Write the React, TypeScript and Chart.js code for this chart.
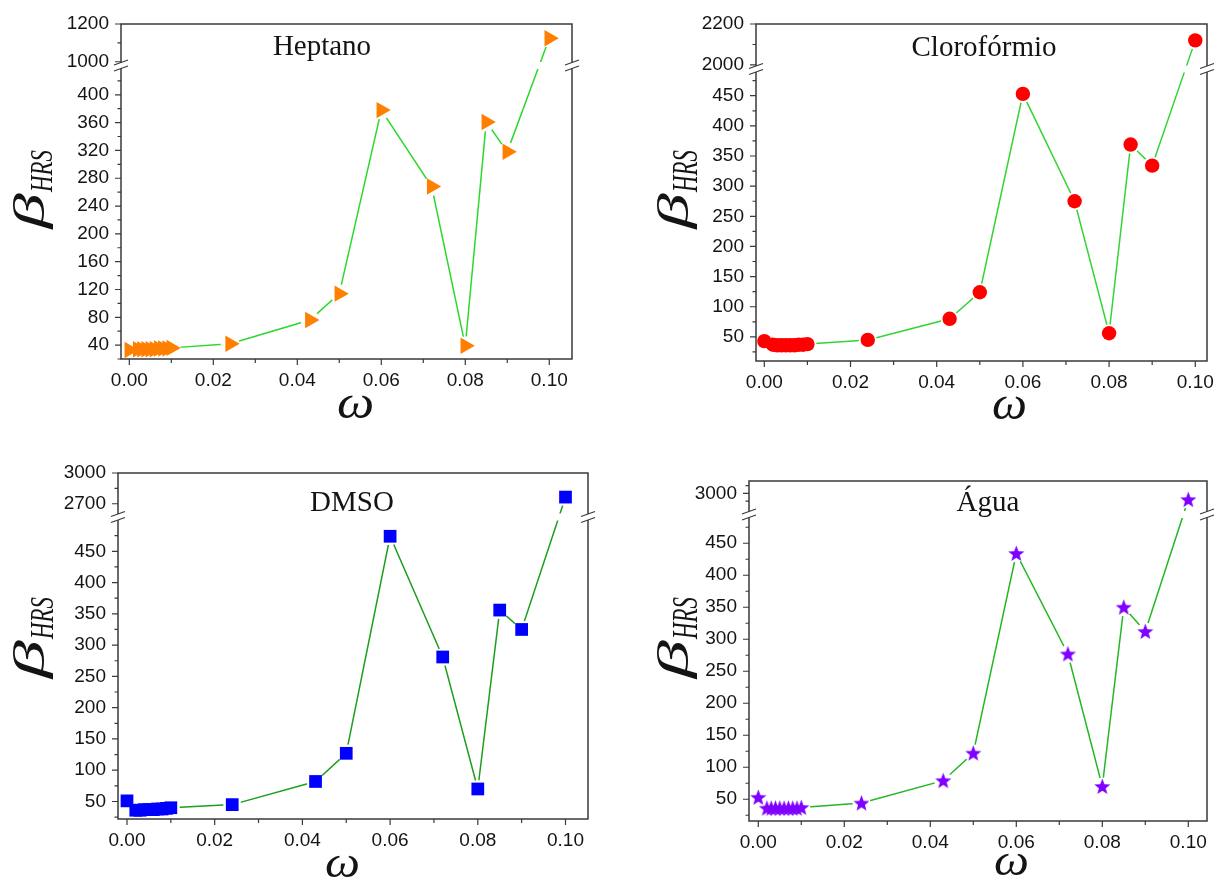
import React, { useEffect, useRef } from 'react';
import { Chart, registerables, LinearScale } from 'chart.js';

Chart.register(...registerables);

// ω values (mass fraction) shared by the four solvents
const omega = [0, 0.002, 0.003, 0.004, 0.005, 0.006, 0.007, 0.008, 0.009, 0.01, 0.024, 0.043, 0.05, 0.06, 0.072, 0.08, 0.085, 0.09, 0.1];

// β_HRS for each solvent, same order as omega
const betaHeptano = [33, 34, 34, 34, 34, 34, 35, 35, 35, 36, 42, 76, 114, 378, 268, 39, 361, 318, 1125];
const betaCloroformio = [43, 37, 36, 36, 36, 36, 36, 37, 37, 38, 45, 80, 124, 453, 275, 56, 369, 334, 2120];
const betaDMSO = [51, 36, 36, 37, 37, 37, 38, 38, 39, 40, 45, 82, 127, 474, 281, 70, 356, 325, 2765];
const betaAgua = [53, 36, 36, 36, 36, 36, 36, 36, 36, 37, 44, 79, 122, 434, 277, 70, 350, 312, 2960];

// x axis ticks
const omegaTicks = [0, 0.01, 0.02, 0.03, 0.04, 0.05, 0.06, 0.07, 0.08, 0.09, 0.1];
const omegaLabelled = [0, 0.02, 0.04, 0.06, 0.08, 0.1];

// y axis ticks (labelled / unlabelled) for each panel
const heptanoTicks = [40, 80, 120, 160, 200, 240, 280, 320, 360, 400, 1000, 1200];
const heptanoMinorTicks = [20, 60, 100, 140, 180, 220, 260, 300, 340, 380, 420, 1100];
const cloroformioTicks = [50, 100, 150, 200, 250, 300, 350, 400, 450, 2000, 2200];
const cloroformioMinorTicks = [25, 75, 125, 175, 225, 275, 325, 375, 425, 475, 2100];
const dmsoTicks = [50, 100, 150, 200, 250, 300, 350, 400, 450, 2700, 3000];
const dmsoMinorTicks = [25, 75, 125, 175, 225, 275, 325, 375, 425, 475, 2850];
const aguaTicks = [50, 100, 150, 200, 250, 300, 350, 400, 450, 3000];
const aguaMinorTicks = [25, 75, 125, 175, 225, 275, 325, 375, 425, 475, 2950, 3050];

const CANVAS_W = 609;
const CANVAS_H = 439;
const TEXT = '#141414';
const FRAME = '#3a3a3a';
const TICK_FONT = { family: '"Liberation Sans", Arial, sans-serif', size: 19 };

// Linear scale with a break: a short upper segment above a tall lower segment.
class BrokenLinearScale extends LinearScale {
  static id = 'brokenLinear';

  determineDataLimits() {
    const b: any = (this as any).options.brk;
    (this as any).min = b.lower[0];
    (this as any).max = b.upper[1];
  }

  buildTicks() {
    const b: any = (this as any).options.brk;
    return [...b.major, ...b.minor].sort((a: number, c: number) => a - c).map((value: number) => ({ value }));
  }

  segmentPixels() {
    const self: any = this;
    const b = self.options.brk;
    const upperBottom = self.top + b.upperPx;
    return { b, upperBottom, lowerTop: upperBottom + b.gapPx };
  }

  getBreakPixel() {
    const s = this.segmentPixels();
    return (s.upperBottom + s.lowerTop) / 2;
  }

  getPixelForValue(value: number) {
    const self: any = this;
    const { b, upperBottom, lowerTop } = this.segmentPixels();
    const [l0, l1] = [b.lower[0], b.lower[1]];
    const [u0, u1] = [b.upper[0], b.upper[1]];
    if (value <= l1) return self.bottom - ((value - l0) / (l1 - l0)) * (self.bottom - lowerTop);
    if (value >= u0) return upperBottom - ((value - u0) / (u1 - u0)) * (upperBottom - self.top);
    return lowerTop - ((value - l1) / (u0 - l1)) * (lowerTop - upperBottom);
  }

  getValueForPixel(pixel: number) {
    const self: any = this;
    const { b, upperBottom, lowerTop } = this.segmentPixels();
    const [l0, l1] = [b.lower[0], b.lower[1]];
    const [u0, u1] = [b.upper[0], b.upper[1]];
    if (pixel >= lowerTop) return l0 + ((self.bottom - pixel) / (self.bottom - lowerTop)) * (l1 - l0);
    if (pixel <= upperBottom) return u0 + ((upperBottom - pixel) / (upperBottom - self.top)) * (u1 - u0);
    return l1 + ((lowerTop - pixel) / (lowerTop - upperBottom)) * (u0 - l1);
  }
}
Chart.register(BrokenLinearScale as any);

type Box = [number, number, number, number];

interface PanelSpec {
  key: string;
  title: string;
  values: number[];
  major: number[];
  minor: number[];
  ox: number; oy: number;
  L: number; T: number; R: number; B: number;
  xMin: number; xMax: number;
  lower: [number, number]; upper: [number, number];
  upperPx: number; gapPx: number;
  marker: string; rotation: number; radius: number;
  color: string; line: string; halo: number;
  titleX: number; titleY: number;
  beta: Box; sub: Box; om: Box;
}

const panels: PanelSpec[] = [
  {
    key: 'heptano', title: 'Heptano', values: betaHeptano, major: heptanoTicks, minor: heptanoMinorTicks,
    ox: 0, oy: 0, L: 121, T: 24, R: 572, B: 359, xMin: -0.00198, xMax: 0.10541,
    lower: [20, 440], upper: [988, 1200], upperPx: 40, gapPx: 3,
    marker: 'triangle', rotation: 90, radius: 9.5, color: '#ff8000', line: '#2bd92b', halo: 9.5,
    titleX: 322, titleY: 55, beta: [13, 193, 40, 37], sub: [32, 150, 20, 43], om: [338, 395, 34, 23],
  },
  {
    key: 'cloroformio', title: 'Clorofórmio', values: betaCloroformio, major: cloroformioTicks, minor: cloroformioMinorTicks,
    ox: 609, oy: 0, L: 756, T: 24, R: 1207, B: 361, xMin: -0.00193, xMax: 0.10272,
    lower: [10, 491], upper: [1990, 2200], upperPx: 43, gapPx: 4,
    marker: 'circle', rotation: 0, radius: 7.2, color: '#ff0000', line: '#33d433', halo: 9,
    titleX: 984, titleY: 56, beta: [657, 193, 40, 37], sub: [675, 150, 22, 43], om: [993, 396, 32, 23],
  },
  {
    key: 'dmso', title: 'DMSO', values: betaDMSO, major: dmsoTicks, minor: dmsoMinorTicks,
    ox: 0, oy: 439, L: 118, T: 473, R: 588, B: 819, xMin: -0.00205, xMax: 0.10513,
    lower: [22, 500], upper: [2600, 3000], upperPx: 41, gapPx: 6,
    marker: 'rect', rotation: 0, radius: 9, color: '#0000ff', line: '#1e9e1e', halo: 9,
    titleX: 352, titleY: 511, beta: [13, 640, 40, 40], sub: [32, 597, 21, 43], om: [326, 855, 32, 22],
  },
  {
    key: 'agua', title: 'Água', values: betaAgua, major: aguaTicks, minor: aguaMinorTicks,
    ox: 609, oy: 439, L: 749, T: 481, R: 1207, B: 821, xMin: -0.00216, xMax: 0.10435,
    lower: [16, 491], upper: [2880, 3080], upperPx: 31, gapPx: 5,
    marker: 'star', rotation: 0, radius: 8.5, color: '#8000ff', line: '#22b822', halo: 9,
    titleX: 988, titleY: 511, beta: [657, 640, 40, 40], sub: [675, 597, 22, 43], om: [995, 853, 32, 22],
  },
];

// Filled five-pointed star used as a point style
function makeStar(color: string, outer: number, inner: number) {
  const size = Math.ceil(outer * 2 + 2);
  const c = document.createElement('canvas');
  c.width = size;
  c.height = size;
  const g = c.getContext('2d')!;
  g.fillStyle = color;
  g.beginPath();
  for (let i = 0; i < 10; i++) {
    const r = i % 2 === 0 ? outer : inner;
    const a = -Math.PI / 2 + (i * Math.PI) / 5;
    const x = size / 2 + r * Math.cos(a);
    const y = size / 2 + 0.6 + r * Math.sin(a);
    if (i === 0) g.moveTo(x, y);
    else g.lineTo(x, y);
  }
  g.closePath();
  g.fill();
  return c;
}

// Draws text so that its inked area fills the given box (optionally rotated to read upwards)
function fitText(ctx: CanvasRenderingContext2D, text: string, font: string, box: Box, rotated: boolean) {
  const [x0, y0, w, h] = box;
  ctx.save();
  ctx.font = font;
  ctx.fillStyle = TEXT;
  ctx.textAlign = 'left';
  ctx.textBaseline = 'alphabetic';
  const m = ctx.measureText(text);
  const L = m.actualBoundingBoxLeft;
  const inkW = L + m.actualBoundingBoxRight;
  const asc = m.actualBoundingBoxAscent;
  const inkH = asc + m.actualBoundingBoxDescent;
  if (rotated) {
    const along = h / inkW;
    const across = w / inkH;
    ctx.translate(x0 + across * asc, y0 + h);
    ctx.rotate(-Math.PI / 2);
    ctx.scale(along, across);
  } else {
    const sx = w / inkW;
    const sy = h / inkH;
    ctx.translate(x0, y0 + sy * asc);
    ctx.scale(sx, sy);
  }
  ctx.fillText(text, L, 0);
  ctx.restore();
}

function decorations(p: PanelSpec) {
  const local = (b: Box): Box => [b[0] - p.ox, b[1] - p.oy, b[2], b[3]];
  return {
    id: 'panelDecorations',
    afterDatasetDraw(chart: any, args: any) {
      if (args.index !== 0) return;
      const ctx: CanvasRenderingContext2D = chart.ctx;
      const area = chart.chartArea;
      ctx.save();
      ctx.fillStyle = '#ffffff';
      // small gaps in the connecting line around each symbol
      for (const el of chart.getDatasetMeta(1).data) {
        ctx.beginPath();
        ctx.arc(el.x, el.y, p.halo, 0, Math.PI * 2);
        ctx.fill();
      }
      // gap in the line where the axis is broken
      const yb = chart.scales.y.getBreakPixel();
      ctx.fillRect(area.left + 1, yb - 3.5, area.right - area.left - 2, 7);
      ctx.restore();
    },
    afterDraw(chart: any) {
      const ctx: CanvasRenderingContext2D = chart.ctx;
      const { left, right, top, bottom } = chart.chartArea;
      const ys = chart.scales.y;
      const xs = chart.scales.x;
      const yb = ys.getBreakPixel();
      ctx.save();
      ctx.strokeStyle = FRAME;
      ctx.lineWidth = 1.5;
      ctx.lineCap = 'butt';
      ctx.beginPath();
      ctx.moveTo(left - 0.75, top); ctx.lineTo(right + 0.75, top);
      ctx.moveTo(left - 0.75, bottom); ctx.lineTo(right + 0.75, bottom);
      for (const ax of [left, right]) {
        ctx.moveTo(ax, top); ctx.lineTo(ax, yb - 3);
        ctx.moveTo(ax, yb + 3); ctx.lineTo(ax, bottom);
      }
      ctx.stroke();

      // y ticks, pointing outwards
      ctx.lineWidth = 1.2;
      ctx.beginPath();
      for (const t of ys.ticks) {
        const y = ys.getPixelForValue(t.value);
        const len = p.major.includes(t.value) ? 6 : 3.5;
        ctx.moveTo(left - len, y); ctx.lineTo(left, y);
      }
      // x ticks
      for (const v of omegaTicks) {
        const x = xs.getPixelForValue(v);
        const len = omegaLabelled.includes(v) ? 6 : 4;
        ctx.moveTo(x, bottom); ctx.lineTo(x, bottom + len);
      }
      ctx.stroke();

      // axis break marks
      ctx.lineWidth = 1.2;
      ctx.beginPath();
      for (const ax of [left, right]) {
        for (const d of [-3, 3]) {
          ctx.moveTo(ax - 7, yb + d + 2.5);
          ctx.lineTo(ax + 7, yb + d - 2.5);
        }
      }
      ctx.stroke();

      // solvent name
      ctx.fillStyle = TEXT;
      ctx.font = '29px "Liberation Serif", "Times New Roman", serif';
      ctx.textAlign = 'center';
      ctx.textBaseline = 'alphabetic';
      ctx.fillText(p.title, p.titleX - p.ox, p.titleY - p.oy);
      ctx.restore();

      // axis titles
      fitText(ctx, 'β', 'italic 44px "Liberation Serif", serif', local(p.beta), true);
      fitText(ctx, 'HRS', 'italic 24px "Liberation Serif", serif', local(p.sub), true);
      fitText(ctx, 'ω', 'italic 48px "Liberation Serif", serif', local(p.om), false);
    },
  };
}

function buildConfig(p: PanelSpec) {
  const points = omega.map((x, i) => ({ x, y: p.values[i] }));
  const pointStyle: any = p.marker === 'star' ? makeStar(p.color, 8.5, 3.6) : p.marker;
  return {
    type: 'line',
    data: {
      datasets: [
        {
          data: points,
          borderColor: p.line,
          borderWidth: 1.5,
          pointRadius: 0,
          tension: 0,
          fill: false,
          order: 2,
        },
        {
          data: points,
          showLine: false,
          pointStyle,
          pointRotation: p.rotation,
          pointRadius: p.radius,
          pointBackgroundColor: p.color,
          pointBorderColor: p.color,
          pointBorderWidth: 0,
          order: 1,
        },
      ],
    },
    options: {
      animation: false,
      responsive: false,
      devicePixelRatio: 1,
      events: [],
      layout: { padding: { left: 0, top: p.T - p.oy, right: CANVAS_W - (p.R - p.ox), bottom: 0 } },
      plugins: { legend: { display: false }, tooltip: { enabled: false } },
      scales: {
        x: {
          type: 'linear',
          position: 'bottom',
          min: p.xMin,
          max: p.xMax,
          afterBuildTicks: (s: any) => {
            s.ticks = omegaTicks.map((value) => ({ value }));
          },
          afterFit: (s: any) => {
            s.height = CANVAS_H - (p.B - p.oy);
          },
          ticks: {
            autoSkip: false,
            maxRotation: 0,
            padding: 0,
            font: TICK_FONT,
            color: TEXT,
            callback: (v: number) => (omegaLabelled.includes(v) ? v.toFixed(2) : ''),
          },
          grid: { display: false, drawTicks: true, tickLength: 10 },
          border: { display: false },
        },
        y: {
          type: 'brokenLinear',
          position: 'left',
          brk: { lower: p.lower, upper: p.upper, upperPx: p.upperPx, gapPx: p.gapPx, major: p.major, minor: p.minor },
          afterFit: (s: any) => {
            s.width = p.L - p.ox;
          },
          ticks: {
            autoSkip: false,
            padding: 0,
            font: TICK_FONT,
            color: TEXT,
            callback: (v: number) => (p.major.includes(v) ? String(v) : ''),
          },
          grid: { display: false, drawTicks: true, tickLength: 12 },
          border: { display: false },
        },
      },
    },
    plugins: [decorations(p)],
  };
}

function Panel({ p }: { p: PanelSpec }) {
  const ref = useRef<HTMLCanvasElement>(null);
  useEffect(() => {
    const chart = new Chart(ref.current as HTMLCanvasElement, buildConfig(p) as any);
    return () => chart.destroy();
  }, [p]);
  return (
    <canvas
      ref={ref}
      width={CANVAS_W}
      height={CANVAS_H}
      style={{ position: 'absolute', left: p.ox, top: p.oy, width: CANVAS_W, height: CANVAS_H }}
    />
  );
}

export default function App() {
  return (
    <div style={{ position: 'absolute', left: 0, top: 0, width: 1218, height: 878, background: '#ffffff', overflow: 'hidden' }}>
      {panels.map((p) => (
        <Panel key={p.key} p={p} />
      ))}
    </div>
  );
}
